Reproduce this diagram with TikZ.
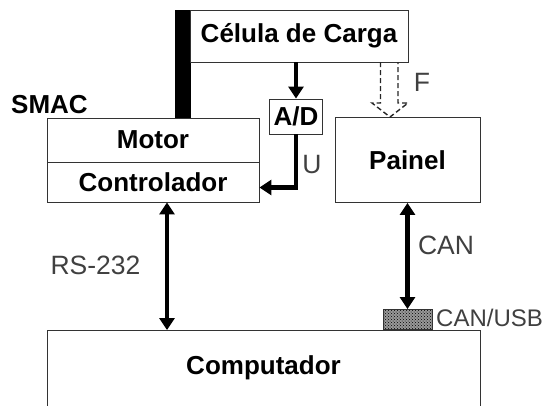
\documentclass[tikz,border=0pt]{standalone}
\usepackage{fontspec}
\setmainfont{Liberation Sans}
\usetikzlibrary{arrows.meta,calc,patterns}
\begin{document}
\begin{tikzpicture}[x=1pt,y=-1pt,
  box/.style={draw=black!80,line width=0.9pt,inner sep=0pt,fill=white,
    font=\bfseries\fontsize{26}{30}\selectfont},
  lbl/.style={inner sep=0pt,text=black!75,font=\fontsize{26.5}{30}\selectfont},
  bold/.style={inner sep=0pt,font=\bfseries\fontsize{26}{30}\selectfont},
  thick arrow/.style={line width=4.5pt,-{Triangle[width=15pt,length=12pt]}},
  both arrow/.style={line width=4.5pt,{Triangle[width=15pt,length=12pt]}-{Triangle[width=15pt,length=12pt]}},
  hollow/.style={draw=black!85,line width=1.4pt,dashed,dash pattern=on 5pt off 3pt}]
\useasboundingbox (0,0) rectangle (548,405);
% black bar
\fill[black] (175,10) rectangle (190.5,118);
% boxes
\node[box,minimum width=218pt,minimum height=52pt] (celula) at (299,36) {Célula de Carga};
\node[box,minimum width=212pt,minimum height=44pt] (motor) at (153,140) {Motor};
\node[box,minimum width=212pt,minimum height=40pt] (ctrl) at (153,182) {Controlador};
\node[box,minimum width=53pt,minimum height=35pt] (ad) at (296,116.5) {A/D};
\node[box,minimum width=145pt,minimum height=85pt] (painel) at (407.5,160) {Painel};
\node[bold,anchor=center] (smac) at (49.5,105) {SMAC};
% computador (bottom cut off)
\draw[draw=black!80,line width=0.9pt] (47,410) -- (47,330) coordinate (compTL) -- (480,330) coordinate (compTR) -- (480,410);
\node[bold] (comp) at (263.5,368) {Computador};
\fill[black!40] (383,309.5) rectangle (432,329.5);
\node[draw=black!80,line width=0.9pt,inner sep=0pt,minimum width=49pt,minimum height=20pt,
  pattern=crosshatch dots,pattern color=black] (canusb) at (407.5,319.5) {};
% connectors
\draw[thick arrow] (celula.south -| ad.north) -- (ad.north);
\coordinate (ctrlin) at ($(ctrl.east)+(0,5.5)$);
\draw[thick arrow] (ad.south) |- (ctrlin);
\coordinate (rsA) at (167,202);
\coordinate (rsB) at (167,330);
\draw[both arrow] (ctrl.south -| rsA) -- (compTL -| rsB);
\draw[both arrow] (painel.south) -- (canusb.north);
% hollow dashed arrow F
\coordinate (fl) at (380.5,62);
\coordinate (fr) at (398,62);
\coordinate (ftip) at (390,117);
\draw[hollow] (fl) -- (380.5,103) -- (372,103) -- (ftip) -- (408,103) -- (398,103) -- (fr);
% labels
\node[lbl] (F) at (422,82) {F};
\node[lbl] (U) at (312,165) {U};
\node[lbl] (rs) at (95.5,265) {RS-232};
\node[lbl] (can) at (446,245) {CAN};
\node[lbl,anchor=west,font=\fontsize{24}{28}\selectfont] (canusbl) at (436,318) {CAN/USB};
\end{tikzpicture}
\end{document}
